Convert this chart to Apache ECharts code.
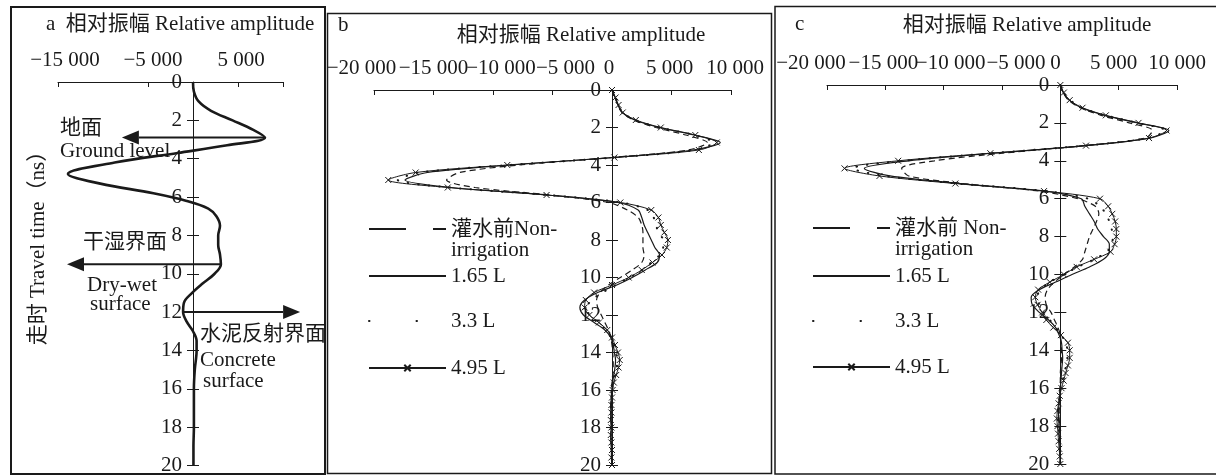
<!DOCTYPE html>
<html>
<head>
<meta charset="utf-8">
<script src="https://cdn.jsdelivr.net/npm/echarts@6/dist/echarts.min.js"></script>
<style>
  html, body { margin: 0; padding: 0; background: #ffffff; }
  #chart { width: 1216px; height: 476px; }
</style>
</head>
<body>
<div id="chart"></div>
<script>
// ---- Panel a: single reflection trace ----
const timeA = [0, 0.5, 1, 1.5, 2, 2.5, 2.9, 3.3, 3.7, 4.2, 4.8, 5.3, 5.8, 6.2, 6.6, 7, 7.5, 8, 8.5, 9, 9.5, 10,
               10.5, 11, 11.5, 12, 12.5, 13, 13.5, 14, 15, 16, 17, 18, 19, 20];
const ampA  = [0, 100, 600, 2000, 4400, 6700, 8000, 3800, -1700, -8700, -13900, -10300, -4400, -700, 1700, 2600,
               3000, 2800, 2800, 3000, 3100, 2400, 1100, -100, -1000, -1100, -700, 0, 400, 400, 200, 100, 100, 100, 50, 50];

// interface arrows of panel a, in data units [amplitude, time]
const interfaceArrows = [
  { from: [8000, 2.9],  to: [-7900, 2.9] },
  { from: [3100, 9.5],  to: [-14000, 9.5] },
  { from: [-1100, 12],  to: [11900, 12] }
];

// ---- Panels b and c: traces sampled every 0.4 ns ----
const timeBC = [0, 0.4, 0.8, 1.2, 1.6, 2.0, 2.4, 2.8, 3.2, 3.6, 4.0, 4.4, 4.8, 5.2, 5.6, 6.0, 6.4, 6.8, 7.2, 7.6,
                8.0, 8.4, 8.8, 9.2, 9.6, 10.0, 10.4, 10.8, 11.2, 11.6, 12.0, 12.4, 12.8, 13.2, 13.6, 14.0, 14.4, 14.8,
                15.2, 15.6, 16.0, 16.4, 16.8, 17.2, 17.6, 18.0, 18.4, 18.8, 19.2, 19.6, 20.0];

const seriesNames = ['灌水前 Non-irrigation', '1.65 L', '3.3 L', '4.95 L'];

const bNonIrr = [0, 250, 500, 850, 1800, 3700, 6200, 8000, 6400, 0, -7800, -12800, -13900, -11500, -5200, -300, 1300,
                 2200, 2500, 2600, 2600, 2600, 2700, 2500, 1700, 700, -300, -1000, -1300, -1200, -900, -600, -300, -100,
                 0, 50, 100, 100, 50, 0, -50, -50, -100, -100, -50, -50, -100, -50, 0, -50, 0];
const b165   = [0, 250, 500, 850, 1900, 4000, 6900, 9100, 6800, 100, -8500, -15500, -17400, -13500, -5400, 500, 2200,
                2500, 2700, 3000, 3300, 3600, 4000, 3800, 2800, 1700, 400, -1200, -2300, -2700, -2400, -1500, -600, -100,
                100, 200, 300, 250, 150, 50, 0, -50, -100, -100, -100, -50, -100, -100, -50, -50, 0];
const b33    = [0, 300, 550, 900, 1950, 4000, 6900, 8500, 7000, 200, -8600, -16200, -18000, -13600, -5400, 800, 3000,
                3500, 3700, 3900, 4300, 4300, 4000, 3300, 2500, 1500, 300, -800, -1700, -2100, -1900, -1200, -500, -100,
                150, 350, 450, 400, 250, 100, 0, -50, -100, -50, -100, -100, -50, -100, -50, 0, 0];
const b495   = [0, 300, 550, 900, 2000, 4100, 7000, 8800, 7300, 200, -8800, -16500, -18800, -13800, -5500, 700, 3300,
                3900, 4100, 4400, 4700, 4600, 4200, 3400, 2500, 1400, 0, -1500, -2200, -2300, -1900, -1100, -400, 0,
                250, 500, 650, 550, 350, 150, 50, 0, -50, -50, -100, -50, -100, -50, 0, -50, 0];

const cNonIrr = [0, 250, 700, 1700, 3500, 5900, 7900, 7300, 2000, -5000, -10800, -13600, -13000, -8300, -1800, 1500,
                 3000, 3300, 3100, 2800, 2500, 2300, 2100, 1900, 1200, 300, -500, -1100, -1300, -1200, -800, -500, -200,
                 0, 50, 100, 100, 50, 0, 0, -50, -50, -100, -100, -100, -50, -50, -50, 0, 0, 0];
const c165   = [0, 250, 750, 1800, 3800, 6600, 9300, 7700, 2100, -5800, -13000, -16800, -14600, -8600, -1300, 1800,
                2100, 2500, 2900, 3200, 3700, 4200, 4200, 3700, 2500, 1000, -400, -1800, -2500, -2400, -1800, -1000, -400,
                -100, 100, 150, 200, 150, 100, 50, 0, -50, -100, -150, -150, -100, -100, -50, -50, 0, 0];
const c33    = [0, 300, 850, 1850, 3850, 6600, 9000, 7500, 2100, -5900, -13500, -17800, -15100, -8800, -1200, 2400,
                3400, 3900, 4200, 4400, 4500, 4400, 4000, 2900, 1500, 300, -900, -1700, -2000, -1800, -1400, -900, -400,
                100, 450, 600, 600, 500, 350, 200, 50, -50, -150, -200, -200, -150, -100, -100, -50, 0, 0];
const c495   = [0, 300, 800, 1900, 3900, 6700, 9100, 7600, 2200, -6000, -13900, -18500, -15500, -9000, -1400, 3400,
                4100, 4450, 4700, 4800, 4800, 4650, 4300, 2900, 1400, 300, -900, -1900, -2150, -1950, -1550, -1200, -600,
                50, 650, 800, 800, 650, 450, 280, 100, -50, -150, -250, -300, -250, -200, -150, -100, -50, 0];

// ---- tick values ----
const ticksA = [-15000, -5000, 5000, 10000];
const labelsA = [-15000, -5000, 5000];

// ---- styling ----
const ink = '#1a1a1a';
const serif = "'Liberation Serif', 'Times New Roman', 'Noto Sans CJK SC', serif";
const crossPath = 'path://M0,0L10,10M10,0L0,10';
const tickFontSize = 21;

// horizontal nudges (px) of amplitude labels so the crowded labels sit side by side
const labelNudgeA = { '-15000': 7, '-5000': 5, '5000': 3 };
const labelNudgeB = { '-20000': -12.5, '-15000': 0, '-10000': 8, '-5000': 13, '0': -3, '5000': -2, '10000': 4 };
const labelNudgeC = { '-20000': -16, '-15000': -2, '-10000': 7, '-5000': 14, '0': -6, '5000': -5, '10000': 0 };

const measureCtx = document.createElement('canvas').getContext('2d');
measureCtx.font = tickFontSize + "px 'Liberation Serif', 'Times New Roman', serif";

function fmtAmp(v) {
  const s = Math.abs(v).toString().replace(/\B(?=(\d{3})+(?!\d))/g, ' ');
  return (v < 0 ? '\u2212' : '') + s;
}
function richKey(v) { return (v < 0 ? 'm' : 'p') + Math.abs(v); }
// each label keeps a narrow layout box; its text is anchored to one side of it
function nudgedLabels(nudge) {
  const rich = {};
  Object.keys(nudge).forEach(k => {
    const v = Number(k), s = nudge[k];
    const w = measureCtx.measureText(fmtAmp(v)).width;
    rich[richKey(v)] = {
      width: Math.max(1, w - 2 * Math.abs(s)),
      align: s < 0 ? 'right' : (s > 0 ? 'left' : 'center'),
      fontFamily: serif, fontSize: tickFontSize, color: ink
    };
  });
  return {
    rich: rich,
    formatter: v => (String(v) in nudge ? '{' + richKey(v) + '|' + fmtAmp(v) + '}' : fmtAmp(v))
  };
}
function pairs(values, times) {
  return values.map((v, i) => [v, times[i]]);
}

const grids = [
  { left: 58,  top: 82, width: 225, height: 384 },
  { left: 374, top: 90, width: 357, height: 375 },
  { left: 827, top: 85, width: 350, height: 379 }
];
const ampRanges = [[-15000, 10000], [-20000, 10000], [-20000, 10000]];

function ampAxis(gi, nudge, tickVals, labelVals) {
  const nl = nudgedLabels(nudge);
  const tick = { show: true, inside: true, length: 5, lineStyle: { color: ink, width: 1 } };
  const label = { margin: 11, fontFamily: serif, fontSize: tickFontSize, color: ink,
                  showMinLabel: true, showMaxLabel: true, formatter: nl.formatter, rich: nl.rich };
  if (tickVals) tick.customValues = tickVals;
  if (labelVals) label.customValues = labelVals;
  return {
    type: 'value', gridIndex: gi, position: 'top', min: ampRanges[gi][0], max: ampRanges[gi][1], interval: 5000,
    axisLine: { show: true, onZero: false, lineStyle: { color: ink, width: 1 } },
    axisTick: tick, axisLabel: label, splitLine: { show: false }
  };
}
// time axes sit on the zero-amplitude line of their panel
function timeAxes(gi) {
  const r = ampRanges[gi];
  const zeroOffset = -grids[gi].width * (0 - r[0]) / (r[1] - r[0]);
  const base = { type: 'value', gridIndex: gi, inverse: true, min: 0, max: 20, interval: 2, position: 'left',
                 offset: zeroOffset, splitLine: { show: false } };
  return [
    Object.assign({}, base, {
      axisLine: { show: true, onZero: false, lineStyle: { color: ink, width: 1 } },
      axisTick: { show: true, inside: false, length: 6, lineStyle: { color: ink } },
      axisLabel: { margin: 11, fontFamily: serif, fontSize: 21, color: ink, showMinLabel: true, showMaxLabel: true }
    }),
    Object.assign({}, base, {
      axisLine: { show: false, onZero: false },
      axisTick: { show: true, inside: true, length: 6, lineStyle: { color: ink } },
      axisLabel: { show: false }
    })
  ];
}

const traceStyles = [
  { lineStyle: { color: ink, width: 1.2, type: [6, 4] }, symbol: 'none' },
  { lineStyle: { color: ink, width: 1.2 }, symbol: 'none' },
  { lineStyle: { color: ink, width: 2, type: [0.5, 10], cap: 'round' }, symbol: 'none' },
  { lineStyle: { color: ink, width: 1 }, symbol: crossPath, symbolSize: 6, showSymbol: true,
    itemStyle: { color: 'transparent', borderColor: ink, borderWidth: 1 } }
];

function panelSeries(xi, yi, sets) {
  return sets.map((vals, k) => Object.assign({
    type: 'line', name: seriesNames[k], xAxisIndex: xi, yAxisIndex: yi,
    data: pairs(vals, timeBC), smooth: 0.3, animation: false, silent: true
  }, traceStyles[k]));
}

const legendLineStyles = [
  { type: [37, 27] },
  {},
  { type: [0.5, 47], width: 2, cap: 'round' },
  {}
];
function panelLegends(left, tops, firstLabel) {
  const labels = [firstLabel, '1.65 L', '3.3 L', '4.95 L'];
  return seriesNames.map((name, k) => ({
    show: true, data: [name], left: left, top: tops[k], padding: 0, orient: 'vertical',
    itemWidth: 77, itemHeight: 8, itemGap: 0, selectedMode: false,
    formatter: () => labels[k],
    textStyle: { fontFamily: serif, fontSize: 21, color: ink, lineHeight: 21 },
    lineStyle: legendLineStyles[k],
    itemStyle: k === 3 ? {} : { opacity: 0 }
  }));
}

const textBase = { fontFamily: serif, fontSize: 21, fill: ink };
function label(id, text, x, y, align, extra) {
  return Object.assign({
    type: 'text', id: id, x: x, y: y, silent: true,
    style: Object.assign({}, textBase, { text: text, align: align || 'left', verticalAlign: 'middle' })
  }, extra || {});
}

const staticGraphics = [
  { type: 'rect', id: 'frameA', shape: { x: 11, y: 7, width: 314, height: 467 }, silent: true,
    style: { fill: 'none', stroke: ink, lineWidth: 2 } },
  { type: 'rect', id: 'frameB', shape: { x: 327.5, y: 13.5, width: 444, height: 460 }, silent: true,
    style: { fill: 'none', stroke: ink, lineWidth: 1.5 } },
  { type: 'rect', id: 'frameC', shape: { x: 775, y: 6.5, width: 446, height: 467.5 }, silent: true,
    style: { fill: 'none', stroke: ink, lineWidth: 1.5 } },
  label('titleA', 'a  相对振幅 Relative amplitude', 46, 24),
  label('tagB', 'b', 338, 25),
  label('titleB', '相对振幅 Relative amplitude', 581, 35, 'center'),
  label('tagC', 'c', 795, 24),
  label('titleC', '相对振幅 Relative amplitude', 1027, 25, 'center'),
  label('yName', '走时 Travel time（ns）', 38, 243, 'center', { rotation: Math.PI / 2 }),
  label('gnd1', '地面', 60, 128),
  label('gnd2', 'Ground level', 60, 151),
  label('dw1', '干湿界面', 83, 242),
  label('dw2', 'Dry-wet', 87, 285),
  label('dw3', 'surface', 90, 304),
  label('cs1', '水泥反射界面', 200, 334),
  label('cs2', 'Concrete', 200, 360),
  label('cs3', 'surface', 203, 381)
];

const option = {
  animation: false,
  backgroundColor: '#ffffff',
  grid: grids,
  xAxis: [
    ampAxis(0, labelNudgeA, ticksA, labelsA),
    ampAxis(1, labelNudgeB),
    ampAxis(2, labelNudgeC)
  ],
  yAxis: [].concat(timeAxes(0), timeAxes(1), timeAxes(2)),
  legend: [].concat(
    panelLegends(368, [197.5, 265.5, 310.5, 357.5], '\n灌水前Non-\nirrigation'),
    panelLegends(812, [196.5, 265.5, 310.5, 356.5], '\n灌水前 Non-\nirrigation')
  ),
  series: [
    { type: 'line', name: '相对振幅', xAxisIndex: 0, yAxisIndex: 0, data: pairs(ampA, timeA),
      smooth: 0.35, symbol: 'none', lineStyle: { color: ink, width: 2.6 }, silent: true }
  ].concat(
    panelSeries(1, 2, [bNonIrr, b165, b33, b495]),
    panelSeries(2, 4, [cNonIrr, c165, c33, c495])
  ),
  graphic: staticGraphics
};

const chart = echarts.init(document.getElementById('chart'));
chart.setOption(option);

// interface arrows, positioned through the panel-a axes
const arrowGraphics = [];
interfaceArrows.forEach((a, i) => {
  const p1 = chart.convertToPixel({ xAxisIndex: 0, yAxisIndex: 0 }, a.from);
  const p2 = chart.convertToPixel({ xAxisIndex: 0, yAxisIndex: 0 }, a.to);
  const dx = p2[0] - p1[0], dy = p2[1] - p1[1];
  const len = Math.sqrt(dx * dx + dy * dy);
  const ux = dx / len, uy = dy / len;
  const headLen = 17, headHalf = 7;
  const bx = p2[0] - ux * headLen, by = p2[1] - uy * headLen;
  arrowGraphics.push({
    type: 'line', id: 'arrowLine' + i, silent: true,
    shape: { x1: p1[0], y1: p1[1], x2: bx, y2: by },
    style: { stroke: ink, lineWidth: 2 }
  });
  arrowGraphics.push({
    type: 'polygon', id: 'arrowHead' + i, silent: true,
    shape: { points: [[p2[0], p2[1]], [bx - uy * headHalf, by + ux * headHalf], [bx + uy * headHalf, by - ux * headHalf]] },
    style: { fill: ink }
  });
});
chart.setOption({ graphic: staticGraphics.concat(arrowGraphics) });
</script>
</body>
</html>
